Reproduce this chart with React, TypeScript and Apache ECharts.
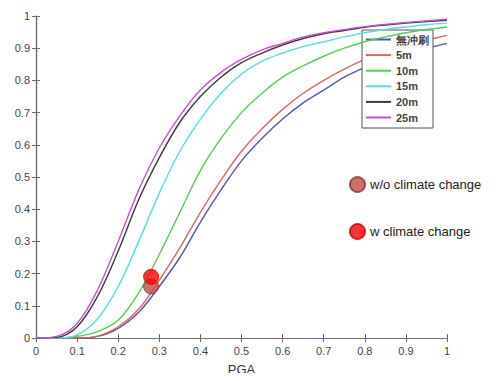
import React, { useEffect, useRef } from "react";
import * as echarts from "echarts";

const pga = [0, 0.05, 0.1, 0.15, 0.2, 0.25, 0.3, 0.35, 0.4, 0.45, 0.5, 0.55, 0.6, 0.65, 0.7, 0.75, 0.8, 0.85, 0.9, 0.95, 1];
const seriesNames = ["無冲刷", "5m", "10m", "15m", "20m", "25m"];
const noScour = [0, 0, 0, 0.005, 0.03, 0.08, 0.16, 0.25, 0.36, 0.46, 0.55, 0.62, 0.68, 0.73, 0.77, 0.81, 0.84, 0.865, 0.885, 0.9, 0.915];
const scour5 = [0, 0, 0, 0.006, 0.035, 0.09, 0.18, 0.28, 0.39, 0.49, 0.58, 0.65, 0.71, 0.76, 0.8, 0.835, 0.865, 0.89, 0.91, 0.925, 0.94];
const scour10 = [0, 0, 0.005, 0.02, 0.055, 0.14, 0.26, 0.39, 0.52, 0.62, 0.7, 0.76, 0.81, 0.845, 0.875, 0.9, 0.92, 0.935, 0.948, 0.958, 0.966];
const scour15 = [0, 0, 0.01, 0.06, 0.16, 0.3, 0.45, 0.58, 0.68, 0.76, 0.82, 0.86, 0.885, 0.905, 0.92, 0.935, 0.948, 0.958, 0.966, 0.973, 0.978];
const scour20 = [0, 0.002, 0.035, 0.13, 0.27, 0.43, 0.56, 0.67, 0.75, 0.81, 0.855, 0.885, 0.91, 0.93, 0.945, 0.955, 0.965, 0.972, 0.978, 0.983, 0.987];
const scour25 = [0, 0.005, 0.045, 0.15, 0.3, 0.46, 0.59, 0.69, 0.77, 0.825, 0.865, 0.895, 0.915, 0.935, 0.948, 0.958, 0.967, 0.974, 0.98, 0.985, 0.99];
const lineColors = ["#5558a8", "#d46a5f", "#55cc55", "#55dde0", "#3a3a3a", "#c155d0"];

const pointNames = ["w/o climate change", "w climate change"];
const pointX = [0.28, 0.28];
const pointY = [0.16, 0.19];
const pointColors = ["#bc4d48", "#ff0000"];
const pointBorders = ["#8e3532", "#d00000"];

const xTicks = [0, 0.1, 0.2, 0.3, 0.4, 0.5, 0.6, 0.7, 0.8, 0.9, 1];

export default function App() {
  const ref = useRef<HTMLDivElement>(null);
  useEffect(() => {
    if (!ref.current) return;
    const chart = echarts.init(ref.current, undefined, { renderer: "svg" });
    const allLines = [noScour, scour5, scour10, scour15, scour20, scour25];
    const fmt = (v: number) => String(Math.round(v * 10) / 10);
    const axisColor = "#6a6a6a";
    const font = "'Liberation Sans', Arial, sans-serif";
    chart.setOption({
      animation: false,
      backgroundColor: "#ffffff",
      grid: { left: 36, right: 50, top: 16, bottom: 39, containLabel: false },
      xAxis: [
        {
          type: "value",
          min: xTicks[0],
          max: xTicks[xTicks.length - 1],
          interval: 0.1,
          name: "PGA",
          nameLocation: "middle",
          nameGap: 25,
          nameTextStyle: { color: "#333", fontSize: 13, fontFamily: font },
          axisLine: { show: true, lineStyle: { color: axisColor, width: 1.2 } },
          axisTick: { show: true, inside: true, length: 4, lineStyle: { color: axisColor } },
          axisLabel: { color: "#444", fontSize: 11, fontFamily: font, margin: 7, formatter: fmt },
          splitLine: { show: false },
        },
        {
          type: "value",
          position: "top",
          min: 0,
          max: 1,
          interval: 0.1,
          axisLine: { show: true, lineStyle: { color: axisColor, width: 1.2 } },
          axisTick: { show: true, inside: true, length: 4, lineStyle: { color: axisColor } },
          axisLabel: { show: false },
          splitLine: { show: false },
        },
      ],
      yAxis: [
        {
          type: "value",
          min: 0,
          max: 1,
          interval: 0.1,
          axisLine: { show: true, lineStyle: { color: axisColor, width: 1.2 } },
          axisTick: { show: true, inside: true, length: 4, lineStyle: { color: axisColor } },
          axisLabel: { color: "#444", fontSize: 11, fontFamily: font, margin: 6, formatter: fmt },
          splitLine: { show: false },
        },
        {
          type: "value",
          position: "right",
          min: 0,
          max: 1,
          interval: 0.1,
          axisLine: { show: true, lineStyle: { color: axisColor, width: 1.2 } },
          axisTick: { show: true, inside: true, length: 4, lineStyle: { color: axisColor } },
          axisLabel: { show: false },
          splitLine: { show: false },
        },
      ],
      legend: [
        {
          data: seriesNames,
          orient: "vertical",
          left: 362,
          top: 30,
          icon: "rect",
          itemWidth: 25,
          itemHeight: 2,
          itemGap: 4.6,
          padding: [4, 4, 5, 4],
          borderColor: "#555",
          borderWidth: 1,
          borderRadius: 0,
          backgroundColor: "#ffffff",
          selectedMode: false,
          textStyle: { color: "#444", fontSize: 11, fontFamily: font, fontWeight: "bold" },
        },
        {
          data: pointNames,
          orient: "vertical",
          left: 349,
          top: 176,
          itemWidth: 15,
          itemHeight: 15,
          itemGap: 30,
          padding: 0,
          selectedMode: false,
          icon: "circle",
          textStyle: { color: "#222", fontSize: 13, fontFamily: font },
        },
      ],
      graphic: [
        {
          type: "line",
          shape: { x1: 489.5, y1: 0, x2: 489.5, y2: 381 },
          style: { stroke: "#dedede", lineWidth: 1 },
          silent: true,
        },
      ],
      series: [
        ...seriesNames.map((name, i) => ({
          name,
          type: "line",
          data: pga.map((x, j) => [x, allLines[i][j]]),
          showSymbol: false,
          symbol: "none",
          smooth: 0.35,
          lineStyle: { color: lineColors[i], width: 1.4 },
          itemStyle: { color: lineColors[i] },
          z: 2 + i,
        })),
        ...pointNames.map((name, i) => ({
          name,
          type: "scatter",
          data: [[pointX[i], pointY[i]]],
          symbol: "circle",
          symbolSize: 15,
          itemStyle: { color: pointColors[i], borderColor: pointBorders[i], borderWidth: 1 },
          z: 10 + i,
        })),
      ],
    });
    return () => chart.dispose();
  }, []);
  return <div ref={ref} style={{ width: 497, height: 381, margin: -8 }} />;
}
